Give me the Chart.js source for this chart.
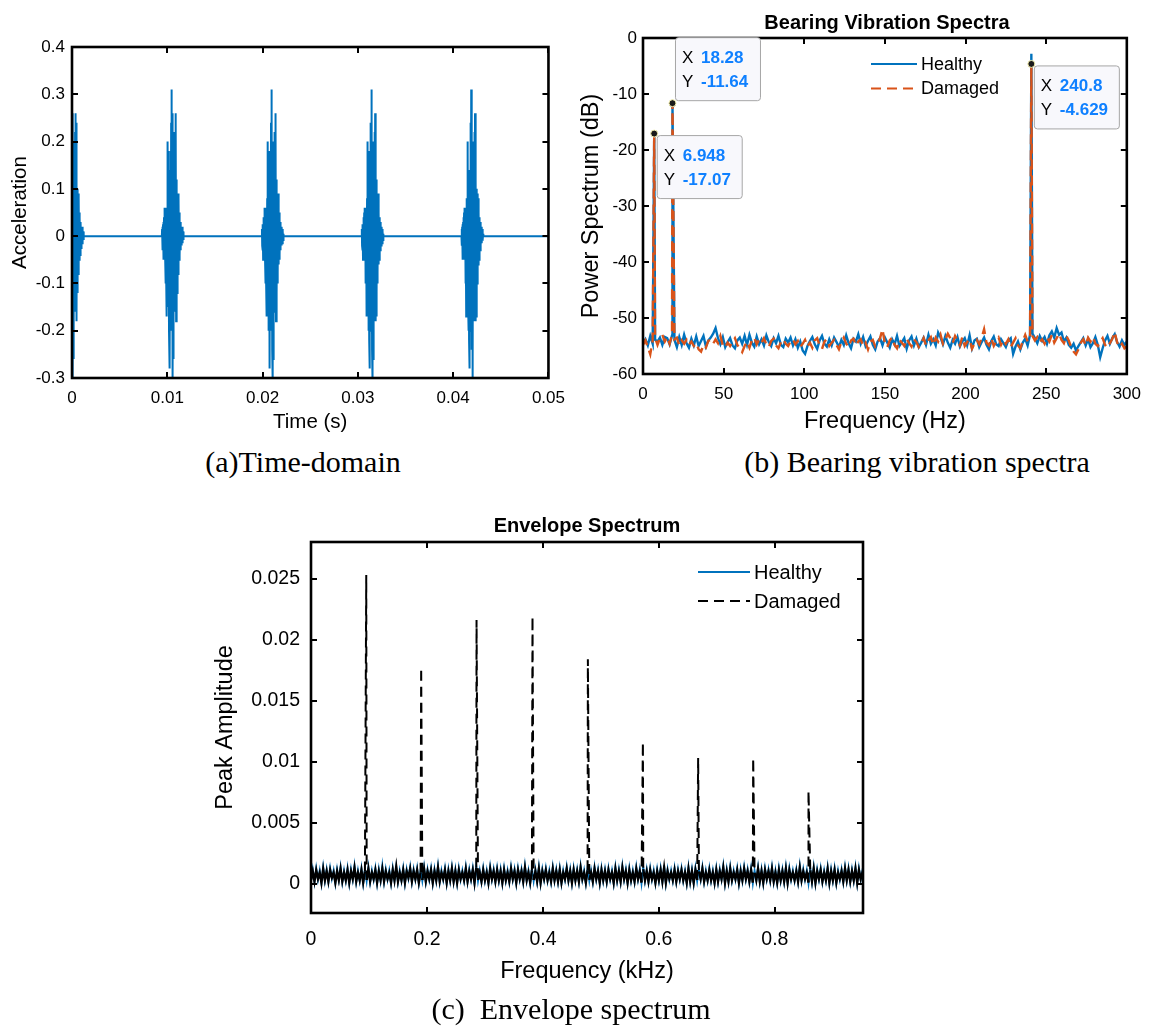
<!DOCTYPE html>
<html>
<head>
<meta charset="utf-8">
<script src="https://cdn.jsdelivr.net/npm/chart.js@4.4.1/dist/chart.umd.min.js"></script>
<style>
  html, body { margin: 0; padding: 0; background: #fff; }
  #page { position: relative; width: 1151px; height: 1026px; overflow: hidden; background: #fff; }
  canvas { position: absolute; }
  .title { position: absolute; font: bold 20px "Liberation Sans", Arial, sans-serif; line-height: 1; transform: translateX(-50%); white-space: nowrap; color: #000; }
  .caption { position: absolute; font: 30px "Liberation Serif", "Times New Roman", serif; line-height: 1; transform: translateX(-50%); white-space: pre; color: #000; }
</style>
</head>
<body>
<div id="page">
  <canvas id="timeChart" width="575" height="445" style="left:0;top:0;width:575px;height:445px"></canvas>
  <canvas id="specChart" width="576" height="445" style="left:575px;top:0;width:576px;height:445px"></canvas>
  <canvas id="envChart" width="700" height="536" style="left:190px;top:490px;width:700px;height:536px"></canvas>

  <div class="title" style="left:887px;top:12px">Bearing Vibration Spectra</div>
  <div class="title" style="left:587px;top:515px">Envelope Spectrum</div>
  <div class="caption" style="left:303px;top:447px">(a)Time-domain</div>
  <div class="caption" style="left:917px;top:447px">(b) Bearing vibration spectra</div>
  <div class="caption" style="left:571px;top:994px">(c)  Envelope spectrum</div>
</div>
<script>
// --- Datos (a): ráfagas de impacto en el dominio del tiempo ---
const burstOnsetsS = [-0.00105, 0.00943, 0.01991, 0.03039, 0.04087];
const burstSampleMs = 0.025; // paso de muestreo dentro de cada ráfaga
const burstAccel = [
  0, 0.015, -0.02, 0.02,  -0.03, 0.025, -0.05, 0.03,  -0.04, 0.04, -0.03, 0.05,  -0.04, 0.06, -0.05, 0.06,
  -0.10, 0.05, -0.08, 0.04,  -0.17, 0.06, -0.12, 0.08,  -0.10, 0.20, -0.12, 0.18,  -0.15, 0.12, -0.20, 0.10,
  -0.22, 0.14, -0.28, 0.12,  -0.20, 0.18, -0.16, 0.24,  -0.18, 0.31, -0.20, 0.26,  -0.24, 0.18, -0.31, 0.16,
  -0.26, 0.20, -0.18, 0.15,  -0.16, 0.18, -0.14, 0.22,  -0.12, 0.26, -0.15, 0.24,  -0.18, 0.12, -0.17, 0.10,
  -0.12, 0.08, -0.10, 0.07,  -0.08, 0.09, -0.06, 0.08,  -0.05, 0.05, -0.05, 0.04,  -0.04, 0.03, -0.03, 0.03,
  -0.025, 0.02, -0.02, 0.02,  -0.015, 0.02, -0.015, 0.015,  -0.01, 0.01, -0.008, 0.005,  0];
const timeEndS = 0.05;

// --- Datos (b): espectro de potencia (dB), rejilla de 1.5 Hz ---
const specStepHz = 1.5;
const healthySpecDb = [
  -54.5, -53.8, -54.9, -53.2, -54.6, -53.9, -54.2, -53.5, -54.8, -53.4,
  -53.6, -54.7, -53.1, -53.9, -55.2, -53.4, -54.8, -53.0, -54.5, -55.3,
  -53.7, -54.9, -53.3, -55.0, -54.1, -53.2, -55.1, -54.0, -53.5, -52.8,
  -51.8, -53.6, -54.7, -53.4, -55.2, -54.3, -53.6, -54.9, -55.4, -54.0,
  -53.5, -54.6, -53.2, -54.8, -53.0, -54.4, -55.1, -53.3, -54.7, -53.8,
  -54.9, -53.1, -54.3, -55.0, -53.6, -54.5, -53.2, -54.8, -55.2, -53.7,
  -54.4, -53.5, -54.9, -53.8, -55.3, -54.2, -55.8, -56.4, -55.0, -54.1,
  -53.4, -54.7, -55.5, -54.0, -53.2, -54.6, -55.1, -53.8, -54.9, -53.5,
  -54.3, -55.2, -53.9, -54.8, -53.1, -54.5, -55.4, -53.7, -54.2, -52.9,
  -54.6, -53.4, -55.0, -54.1, -53.3, -54.8, -55.6, -54.2, -53.6, -54.9,
  -53.5, -54.4, -55.3, -53.8, -54.7, -53.2, -55.0, -54.3, -53.6, -55.5,
  -54.0, -53.3, -54.9, -53.7, -55.2, -54.4, -53.5, -54.8, -53.0, -54.6,
  -53.8, -54.9, -52.6, -53.5, -54.7, -53.2, -54.4, -55.3, -53.9, -54.6,
  -53.4, -55.1, -54.2, -53.6, -54.9, -53.1, -55.4, -54.0, -53.7, -55.2,
  -54.3, -53.5, -54.8, -55.6, -54.1, -53.3, -54.7, -55.0, -53.8, -54.5,
  -55.2, -54.0, -53.6, -56.4, -55.1, -54.2, -55.6, -54.4, -53.7, -54.9,
  -53.0, -52.8, -53.6, -54.5, -53.2, -54.1, -53.4, -54.6, -53.1, -52.4,
  -53.5, -51.8, -53.0, -52.6, -54.2, -53.5, -54.8, -55.3, -54.6, -55.8,
  -55.0, -54.3, -53.6, -54.9, -53.8, -55.2, -54.5, -53.4, -54.8, -57.0,
  -55.4, -54.0, -53.2, -54.6, -53.6, -52.9, -54.3, -55.1, -54.0, -54.8,
  -54.2];
const damagedSpecDb = [
  -54.8, -54.0, -55.2, -56.5, -54.0, -53.5, -54.8, -53.6, -53.0, -54.2,
  -53.4, -54.6, -53.0, -53.8, -53.5, -54.9, -54.0, -54.6, -53.9, -54.8,
  -54.2, -55.0, -54.5, -55.6, -56.0, -54.8, -55.3, -54.1, -53.9, -54.6,
  -53.8, -54.5, -53.2, -54.9, -55.3, -54.4, -55.0, -54.2, -53.6, -54.8,
  -55.4, -56.1, -55.0, -54.2, -55.3, -54.0, -53.5, -54.7, -53.8, -54.4,
  -53.6, -54.8, -55.2, -54.1, -53.7, -54.9, -55.4, -54.3, -53.8, -54.6,
  -55.0, -54.2, -53.8, -54.7, -54.1, -55.2, -54.6, -53.9, -55.1, -54.4,
  -55.3, -54.0, -53.6, -54.9, -55.5, -54.2, -53.8, -55.0, -54.4, -53.9,
  -54.8, -55.6, -54.3, -53.5, -54.6, -55.2, -54.0, -53.7, -54.9, -54.2,
  -53.8, -55.0, -54.4, -55.6, -54.2, -53.9, -55.1, -54.5, -53.6, -52.0,
  -54.6, -55.2, -54.0, -53.5, -54.8, -55.4, -53.9, -54.4, -55.0, -53.7,
  -54.5, -55.1, -53.8, -54.3, -55.2, -54.6, -53.6, -54.9, -54.0, -53.4,
  -54.8, -53.5, -54.2, -53.0, -54.6, -53.8, -52.8, -53.6, -54.5, -53.2,
  -54.0, -54.9, -53.4, -55.0, -54.3, -53.8, -55.5, -54.6, -53.9, -54.7,
  -53.5, -52.0, -54.4, -54.9, -53.6, -55.0, -54.2, -53.5, -54.8, -53.9,
  -54.6, -53.8, -55.2, -54.4, -53.6, -54.9, -55.4, -54.1, -53.0, -54.2,
  -53.5, -53.2, -54.0, -53.4, -54.3, -53.8, -54.6, -53.5, -54.2, -53.0,
  -54.4, -53.6, -52.8, -53.9, -54.5, -53.2, -54.0, -55.2, -56.0, -56.5,
  -55.6, -54.4, -53.8, -54.9, -53.5, -54.2, -53.4, -54.6, -55.0, -54.2,
  -53.6, -54.8, -55.3, -54.5, -53.7, -52.5, -54.4, -55.2, -54.6, -55.4,
  -55.0];
const specPeakHz = [6.948, 18.28, 240.8];
const healthyPeakDb = [-17.0, -11.5, -2.8];
const damagedPeakDb = [-17.07, -11.64, -4.629];

// --- Datos (c): espectro de envolvente, rejilla de 0.003 kHz, piso de ruido en unidades de 1e-4 ---
const envStepKhz = 0.003;
const healthyEnvE4 = [
  2,12,1,13,3,11,0,14,2,12, 1,13,4,11,0,12,3,14,1,11, 2,13,0,12,3,15,1,11,2,13, 0,12,2,14,1,11,3,13,0,12,
  2,15,1,12,3,11,0,13,2,14, 1,11,2,13,0,12,4,14,1,12, 3,13,0,11,2,14,1,12,3,13, 0,12,2,15,1,11,3,13,0,12,
  2,14,1,12,0,13,3,11,2,14, 1,12,3,13,0,15,2,11,1,13, 2,11,0,14,3,12,1,13,2,12, 0,13,2,11,1,14,3,12,0,13,
  3,12,1,15,2,11,0,13,2,12, 1,14,0,12,3,13,2,11,1,14, 2,12,1,13,0,11,3,14,2,12, 0,13,2,12,1,15,3,11,0,13,
  2,11,1,14,3,12,0,13,2,12, 1,13,3,11,0,14,2,12,1,15, 3,12,0,13,2,11,1,14,3,12, 0,14,2,12,1,13,3,11,0,12,
  2,13,1,15,0,12,3,11,2,13, 1,12,3,13,2,11,0,14,1,12, 0,13,2,12,3,14,1,11,2,13, 2,11,0,13,1,12,3,15,0,12,
  1,14,2,11,3,13,0,12,2,14, 3,12,1,13,0,11,2,14,1,12, 0,13,3,12,2,14,1,11,0,13, 2,12,1,14,0,13,3,11,2,12,
  1,15,2,12,3,11,0,13,1,14, 0,12,3,13,1,11,2,14,0,12, 2,13,0,11,3,12,1,14,2,13, 1,12,2,14,0,13,3,11,1,12];
const damagedEnvE4 = [
  3,10,2,11,4,9,1,12,3,10, 2,11,5,9,1,10,3,12,2,9, 3,11,1,10,4,13,2,9,3,11, 1,10,3,12,2,9,4,11,1,10,
  3,12,2,10,4,9,1,11,3,14, 2,9,3,11,1,10,5,12,2,10, 4,11,1,9,3,12,2,10,4,11, 1,10,3,13,2,9,4,11,1,10,
  3,12,2,10,1,11,4,9,3,12, 2,10,4,11,1,13,3,9,2,11, 3,9,1,12,4,10,2,11,3,10, 1,11,3,9,2,12,4,10,1,11,
  4,10,2,13,3,9,1,11,3,10, 2,12,1,10,4,11,3,9,2,12, 3,10,2,11,1,9,4,12,3,10, 1,11,3,10,2,13,4,9,1,11,
  3,9,2,12,4,10,1,11,3,10, 2,11,4,9,1,12,3,10,2,13, 4,10,1,11,3,9,2,12,4,10, 1,12,3,10,2,11,4,9,1,10,
  3,11,2,13,1,10,4,9,3,11, 2,10,4,11,3,9,1,12,2,10, 1,11,3,10,4,12,2,9,3,11, 3,9,1,11,2,10,4,13,1,10,
  2,12,3,9,4,11,1,10,3,12, 4,10,2,11,1,9,3,12,2,10, 1,11,4,10,3,12,2,9,1,11, 3,10,2,12,1,11,4,9,3,10,
  2,13,3,10,4,9,1,11,2,12, 1,10,4,11,2,9,3,12,1,10, 3,11,1,9,4,10,2,12,3,11, 2,10,3,12,1,11,4,9,2,10];
const envPeakKhz = [0.0953, 0.190, 0.2855, 0.382, 0.4775, 0.5724, 0.6677, 0.7626, 0.858];
const envPeakAmp = [0.0253, 0.0177, 0.0216, 0.0219, 0.0184, 0.0116, 0.0103, 0.0103, 0.0076];

// --- Estilos ---
const FONT = '"Liberation Sans", Arial, Helvetica, sans-serif';
const BLUE = '#0072BD';
const ORANGE = '#D95319';
const TIP_BLUE = '#0F80FF';

Chart.defaults.font.family = FONT;
Chart.defaults.color = '#000';

// --- Utilidades ---
function fmtTick(v) { return String(Math.round(v * 1e6) / 1e6); }

function buildTimeSeries() {
    const pts = [];
    burstOnsetsS.forEach(t0 => {
        burstAccel.forEach((v, i) => pts.push({ x: t0 + i * burstSampleMs / 1000, y: v }));
    });
    pts.push({ x: timeEndS, y: 0 });
    return pts;
}

function floorWithPeaks(floor, step, scale, peakX, peakY) {
    const pts = floor.map((v, i) => ({ x: i * step, y: v * scale }));
    peakX.forEach((x, k) => pts.push({ x: x, y: peakY[k] }));
    return pts.sort((a, b) => a.x - b.x);
}

// Marco tipo MATLAB: caja completa y marcas hacia dentro en los 4 lados
const framePlugin = {
    id: 'frame',
    afterDatasetsDraw(chart) {
        const { ctx, chartArea: a, scales } = chart;
        const len = 6;
        ctx.save();
        ctx.strokeStyle = '#000';
        ctx.lineWidth = 2;
        ctx.beginPath();
        scales.x.ticks.forEach(t => {
            const px = Math.round(scales.x.getPixelForValue(t.value));
            ctx.moveTo(px, a.bottom); ctx.lineTo(px, a.bottom - len);
            ctx.moveTo(px, a.top); ctx.lineTo(px, a.top + len);
        });
        scales.y.ticks.forEach(t => {
            const py = Math.round(scales.y.getPixelForValue(t.value));
            ctx.moveTo(a.left, py); ctx.lineTo(a.left + len, py);
            ctx.moveTo(a.right, py); ctx.lineTo(a.right - len, py);
        });
        ctx.stroke();
        ctx.lineWidth = 2.6;
        ctx.strokeRect(a.left, a.top, a.right - a.left, a.bottom - a.top);
        ctx.restore();
    }
};

// Leyenda sin caja, dentro del área
const lineLegendPlugin = {
    id: 'lineLegend',
    afterDraw(chart, args, o) {
        if (!o || !o.show) return;
        const ctx = chart.ctx;
        ctx.save();
        chart.data.datasets.forEach((ds, i) => {
            const y = o.y + i * o.rowGap;
            ctx.strokeStyle = ds.borderColor;
            ctx.lineWidth = o.lineWidth;
            ctx.setLineDash(ds.borderDash || []);
            ctx.beginPath();
            ctx.moveTo(o.x, y); ctx.lineTo(o.x + o.lineLen, y);
            ctx.stroke();
            ctx.setLineDash([]);
            ctx.fillStyle = '#000';
            ctx.font = o.fontSize + 'px ' + FONT;
            ctx.textBaseline = 'middle';
            ctx.textAlign = 'left';
            ctx.fillText(ds.label, o.x + o.lineLen + o.gap, y + 1);
        });
        ctx.restore();
    }
};

// Etiquetas de datos (datatips)
const datatipPlugin = {
    id: 'datatips',
    afterDraw(chart, args, o) {
        if (!o || !o.tips) return;
        const { ctx, scales } = chart;
        ctx.save();
        o.tips.forEach(tip => {
            const px = scales.x.getPixelForValue(tip.x);
            const py = scales.y.getPixelForValue(tip.y);
            const w = 85, h = 63;
            const bx = px + 2.5;
            const by = tip.above ? py - 3 - h : py + 1.5;
            ctx.fillStyle = '#F8F8FC';
            ctx.strokeStyle = '#A6A6A6';
            ctx.lineWidth = 1;
            ctx.beginPath();
            ctx.roundRect(bx + 0.5, by + 0.5, w, h, 3);
            ctx.fill();
            ctx.stroke();
            ctx.textBaseline = 'middle';
            ctx.textAlign = 'left';
            [['X', tip.x], ['Y', tip.y]].forEach((row, r) => {
                const ty = by + 21 + r * 24;
                ctx.font = '17px ' + FONT;
                ctx.fillStyle = '#000';
                ctx.fillText(row[0], bx + 7, ty);
                ctx.font = 'bold 17px ' + FONT;
                ctx.fillStyle = TIP_BLUE;
                ctx.fillText(String(row[1]), bx + 26, ty);
            });
            ctx.beginPath();
            ctx.arc(px, py, 3.5, 0, Math.PI * 2);
            ctx.fillStyle = '#1a1a1a';
            ctx.fill();
            ctx.strokeStyle = '#F5F0B0';
            ctx.lineWidth = 1;
            ctx.stroke();
        });
        ctx.restore();
    }
};

function axis(cfg) {
    return {
        type: 'linear',
        min: cfg.min,
        max: cfg.max,
        grid: { display: false, drawTicks: false },
        border: { display: false },
        ticks: {
            stepSize: cfg.step,
            includeBounds: false,
            autoSkip: false,
            maxRotation: 0,
            padding: cfg.pad,
            color: '#000',
            font: { size: cfg.tickSize },
            callback: fmtTick
        },
        title: {
            display: true,
            text: cfg.title,
            color: '#000',
            font: { size: cfg.titleSize },
            padding: cfg.titlePad
        },
        afterFit: cfg.fit
    };
}

function makeChart(id, cfg) {
    return new Chart(document.getElementById(id), {
        type: 'line',
        data: { datasets: cfg.datasets },
        options: {
            responsive: false,
            animation: false,
            devicePixelRatio: 1,
            events: [],
            layout: { padding: cfg.padding },
            elements: { point: { radius: 0 }, line: { tension: 0 } },
            plugins: {
                legend: { display: false },
                tooltip: { enabled: false },
                lineLegend: cfg.legend || { show: false },
                datatips: cfg.datatips || {}
            },
            scales: { x: cfg.x, y: cfg.y }
        },
        plugins: [framePlugin, lineLegendPlugin, datatipPlugin]
    });
}

document.addEventListener('DOMContentLoaded', function () {
    // (a) Dominio del tiempo
    makeChart('timeChart', {
        padding: { top: 47, right: 26, left: 0, bottom: 0 },
        datasets: [{
            label: 'Signal',
            data: buildTimeSeries(),
            borderColor: BLUE,
            borderWidth: 2
        }],
        x: axis({ min: 0, max: 0.05, step: 0.01, pad: 10, tickSize: 17, title: 'Time (s)', titleSize: 20.5,
            titlePad: { top: 0, bottom: 10.5 }, fit: s => { s.height = 67; } }),
        y: axis({ min: -0.3, max: 0.4, step: 0.1, pad: 7, tickSize: 17, title: 'Acceleration', titleSize: 20.5,
            titlePad: { top: 8.5, bottom: 0 }, fit: s => { s.width = 72; } })
    });

    // (b) Espectros de vibración
    makeChart('specChart', {
        padding: { top: 38, right: 19, left: 0, bottom: 0 },
        datasets: [{
            label: 'Healthy',
            data: floorWithPeaks(healthySpecDb, specStepHz, 1, specPeakHz, healthyPeakDb),
            borderColor: BLUE,
            borderWidth: 2.4,
            order: 1
        }, {
            label: 'Damaged',
            data: floorWithPeaks(damagedSpecDb, specStepHz, 1, specPeakHz, damagedPeakDb),
            borderColor: ORANGE,
            borderWidth: 2.4,
            borderDash: [10, 6],
            order: 0
        }],
        x: axis({ min: 0, max: 300, step: 50, pad: 10, tickSize: 17, title: 'Frequency (Hz)', titleSize: 23.5,
            titlePad: { top: 0, bottom: 9 }, fit: s => { s.height = 71; } }),
        y: axis({ min: -60, max: 0, step: 10, pad: 6, tickSize: 17, title: 'Power Spectrum (dB)', titleSize: 23.5,
            titlePad: { top: 2, bottom: 0 }, fit: s => { s.width = 68; } }),
        legend: { show: true, x: 296, y: 64, rowGap: 24.5, lineLen: 46, gap: 4, lineWidth: 2.2, fontSize: 18 },
        datatips: {
            tips: [
                { x: specPeakHz[0], y: damagedPeakDb[0], above: false },
                { x: specPeakHz[1], y: damagedPeakDb[1], above: true },
                { x: specPeakHz[2], y: damagedPeakDb[2], above: false }
            ]
        }
    });

    // (c) Espectro de envolvente: piso de ruido continuo, picos discontinuos
    const isPeakSeg = ctx => ctx.p0.parsed.y > 0.003 || ctx.p1.parsed.y > 0.003;
    makeChart('envChart', {
        padding: { top: 52, right: 27, left: 0, bottom: 0 },
        datasets: [{
            label: 'Healthy',
            data: floorWithPeaks(healthyEnvE4, envStepKhz, 1e-4, [], []),
            borderColor: BLUE,
            borderWidth: 1.8,
            order: 1
        }, {
            label: 'Damaged',
            data: floorWithPeaks(damagedEnvE4, envStepKhz, 1e-4, envPeakKhz, envPeakAmp),
            borderColor: '#000',
            borderWidth: 2,
            borderDash: [10, 6],
            segment: {
                borderDash: ctx => (isPeakSeg(ctx) ? undefined : []),
                borderWidth: ctx => (isPeakSeg(ctx) ? undefined : 2.4)
            },
            order: 0
        }],
        x: axis({ min: 0, max: 0.952, step: 0.2, pad: 15, tickSize: 19.5, title: 'Frequency (kHz)', titleSize: 23.5,
            titlePad: { top: 0, bottom: 40 }, fit: s => { s.height = 113; } }),
        y: axis({ min: -0.0024, max: 0.028, step: 0.005, pad: 11, tickSize: 19.5, title: 'Peak Amplitude', titleSize: 23.5,
            titlePad: { top: 21, bottom: 0 }, fit: s => { s.width = 121; } }),
        legend: { show: true, x: 508, y: 82, rowGap: 29, lineLen: 52, gap: 4, lineWidth: 2, fontSize: 20 }
    });
});
</script>
</body>
</html>
